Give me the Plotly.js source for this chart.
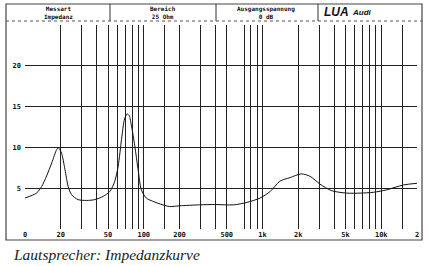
<!DOCTYPE html>
<html>
<head>
<meta charset="utf-8">
<script src="https://cdn.plot.ly/plotly-3.0.1.min.js"></script>
<style>
html,body{margin:0;padding:0;background:#fff;}
#chart{width:429px;height:266px;}
</style>
</head>
<body>
<div id="chart"></div>
<script>
// Impedance curve (frequency in Hz, impedance in Ohm)
const freqHz = [10, 12.5, 13.8, 15.2, 16.8, 18.5, 19.1, 20.3, 21.7, 23.1, 24.7, 28, 33, 38.7, 45.5, 51.8, 57, 60.9, 65, 69, 72.5, 75.3, 78.9, 84, 89.6, 95.5, 105, 119, 145, 165, 200, 295, 395, 570, 735, 955, 1160, 1400, 1710, 2120, 2520, 3050, 3820, 5100, 6650, 8600, 11100, 15400, 20000];
const impedanceOhm = [3.8, 4.4, 5.2, 6.5, 8.1, 9.75, 9.95, 9.3, 7.3, 5.2, 4.2, 3.6, 3.5, 3.6, 4.0, 4.6, 5.85, 7.7, 11, 13.5, 14.1, 13.9, 12.6, 10.2, 7.3, 4.8, 3.8, 3.4, 2.96, 2.75, 2.84, 2.96, 3.0, 2.96, 3.25, 3.8, 4.6, 5.85, 6.3, 6.75, 6.45, 5.5, 4.7, 4.4, 4.4, 4.5, 4.8, 5.4, 5.6];

// Grid frequencies and their labels
const gridFreqs = [10, 20, 30, 40, 60, 70, 80, 90, 100, 150, 200, 300, 400, 500, 700, 800, 900, 1000, 2000, 3000, 4000, 5000, 6000, 7000, 8000, 9000, 10000, 15000, 20000];
const labelFreqs = [10, 20, 50, 100, 200, 500, 1000, 2000, 5000, 10000, 20000];
const labelTexts = ["0", "20", "50", "100", "200", "500", "1k", "2k", "5k", "10k", "2"];
const yTickVals = [0, 5, 10, 15, 20];
const yTickTexts = ["", "5", "10", "15", "20"];

// Header cells
const headerTop = ["Messart", "Bereich", "Ausgangsspannung"];
const headerBottom = ["Impedanz", "25 Ohm", "0 dB"];
const brandMain = "LUA";
const brandSub = "Audi";
const caption = "Lautsprecher: Impedanzkurve";

// pixel -> paper helpers (plot area 25..417 x, 25..229 y)
const PL = 25, PR = 417, PT = 25, PB = 229;
const px = x => (x - PL) / (PR - PL);
const py = y => (PB - y) / (PB - PT);

const allTickVals = Array.from(new Set(gridFreqs.concat(labelFreqs))).sort((a, b) => a - b);
const allTickTexts = allTickVals.map(v => {
  const i = labelFreqs.indexOf(v);
  return i >= 0 ? labelTexts[i] : "";
});

const monoFont = {family: "DejaVu Sans Mono", size: 7, color: "#111", weight: "bold"};
const headFont = {family: "DejaVu Sans Mono", size: 6, color: "#111", weight: "bold"};

const trace = {
  x: freqHz, y: impedanceOhm, type: "scatter", mode: "lines",
  line: {color: "#111", width: 1, shape: "spline", smoothing: 0.8},
  hoverinfo: "skip"
};

const shapes = [];
// outer frame
shapes.push({type: "rect", xref: "paper", yref: "paper", x0: px(6), x1: px(422), y0: py(240), y1: py(4), line: {color: "#444", width: 1.2}});
// header bottom
shapes.push({type: "line", xref: "paper", yref: "paper", x0: px(6), x1: px(422), y0: py(21), y1: py(21), line: {color: "#555", width: 1, dash: "dot"}});
// header dividers
[110, 216, 318].forEach(xx => shapes.push({type: "line", xref: "paper", yref: "paper", x0: px(xx), x1: px(xx), y0: py(21), y1: py(4), line: {color: "#333", width: 1}}));

const annotations = [];
const centers = [58, 163, 266];
headerTop.forEach((t, i) => annotations.push({xref: "paper", yref: "paper", x: px(centers[i]), y: py(12.5), text: t + "<br>" + headerBottom[i], showarrow: false, xanchor: "center", yanchor: "middle", align: "center", font: headFont}));
annotations.push({xref: "paper", yref: "paper", x: px(322), y: py(12), text: brandMain, showarrow: false, xanchor: "left", yanchor: "middle", font: {family: "Liberation Sans", size: 12, color: "#111", style: "italic", weight: "bold"}});
annotations.push({xref: "paper", yref: "paper", x: px(350), y: py(13), text: brandSub, showarrow: false, xanchor: "left", yanchor: "middle", font: {family: "Liberation Sans", size: 8, color: "#111", style: "italic", weight: "bold"}});
annotations.push({xref: "paper", yref: "paper", x: px(11), y: py(254), text: caption, showarrow: false, xanchor: "left", yanchor: "middle", font: {family: "Liberation Serif", size: 15.5, color: "#222", style: "italic"}});

const layout = {
  width: 429, height: 266,
  margin: {l: PL, r: 429 - PR, t: PT, b: 266 - PB, pad: 0},
  paper_bgcolor: "#fff", plot_bgcolor: "#fff",
  showlegend: false,
  xaxis: {
    type: "log", range: [1, Math.log10(20000)],
    tickmode: "array", tickvals: allTickVals, ticktext: allTickTexts,
    showgrid: true, gridcolor: "#222", gridwidth: 1,
    zeroline: false, showline: false, ticks: "",
    tickfont: monoFont, ticklabelstandoff: 0, fixedrange: true
  },
  yaxis: {
    range: [0, 25], tickmode: "array", tickvals: yTickVals, ticktext: yTickTexts,
    showgrid: true, gridcolor: "#222", gridwidth: 1,
    zeroline: false, showline: false, ticks: "",
    tickfont: monoFont, ticklabelstandoff: 3, fixedrange: true
  },
  shapes: shapes,
  annotations: annotations
};

Plotly.newPlot("chart", [trace], layout, {staticPlot: true, displayModeBar: false});
</script>
</body>
</html>
